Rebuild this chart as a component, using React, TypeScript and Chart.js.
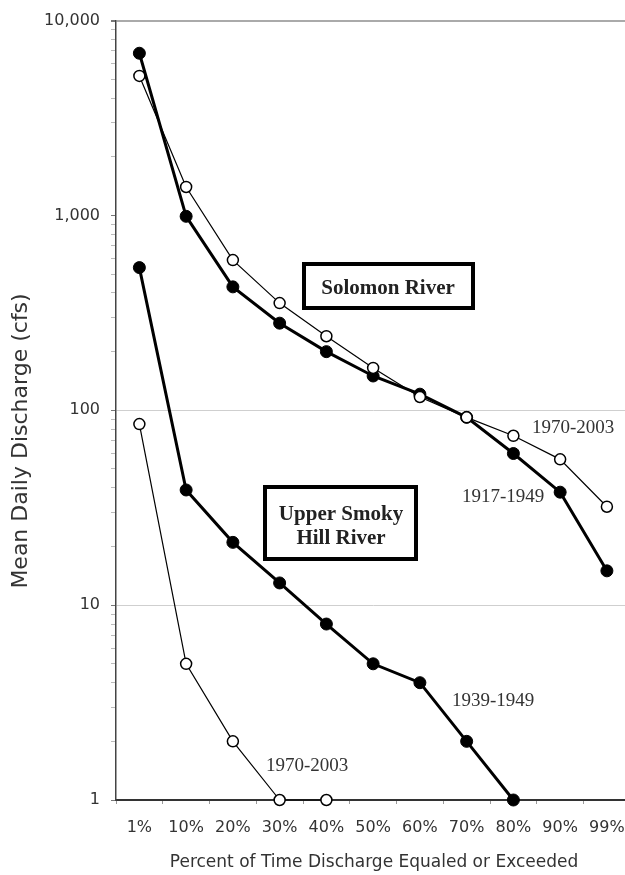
import React, { useEffect, useRef } from "react";
import { Chart, registerables } from "chart.js";

Chart.register(...registerables);

const categories = ["1%", "10%", "20%", "30%", "40%", "50%", "60%", "70%", "80%", "90%", "99%"];
const solomon1917 = [6800, 990, 430, 280, 200, 150, 121, 92, 60, 38, 15];
const solomon1970 = [5200, 1400, 590, 355, 240, 165, 117, 92, 74, 56, 32];
const smoky1939 = [540, 39, 21, 13, 8, 5, 4, 2, 1, null, null];
const smoky1970 = [85, 5, 2, 1, 1, null, null, null, null, null, null];
const yTickValues = [
  1, 2, 3, 4, 5, 6, 7, 8, 9,
  10, 20, 30, 40, 50, 60, 70, 80, 90,
  100, 200, 300, 400, 500, 600, 700, 800, 900,
  1000, 2000, 3000, 4000, 5000, 6000, 7000, 8000, 9000,
  10000,
];
const majorTicks = [1, 10, 100, 1000, 10000];
const yTitle = "Mean Daily Discharge (cfs)";
const xTitle = "Percent of Time Discharge Equaled or Exceeded";

const annotationPlugin = {
  id: "annotations",
  afterDraw(chart: any) {
    const ctx = chart.ctx;
    ctx.save();
    ctx.fillStyle = "#333";
    ctx.textAlign = "center";
    ctx.textBaseline = "middle";
    ctx.font = '22px "DejaVu Sans"';
    ctx.save();
    ctx.translate(21, 441);
    ctx.rotate(-Math.PI / 2);
    ctx.fillText(yTitle, 0, 0);
    ctx.restore();
    ctx.font = '17px "DejaVu Sans"';
    ctx.fillText(xTitle, 374, 863);

    ctx.lineWidth = 4;
    ctx.strokeStyle = "#000";
    ctx.fillStyle = "#fff";
    ctx.fillRect(304, 264, 169, 44);
    ctx.strokeRect(304, 264, 169, 44);
    ctx.fillRect(265, 487, 151, 72);
    ctx.strokeRect(265, 487, 151, 72);

    ctx.fillStyle = "#222";
    ctx.font = 'bold 21px "Liberation Serif"';
    ctx.fillText("Solomon River", 388, 289);
    ctx.fillText("Upper Smoky", 341, 515);
    ctx.fillText("Hill River", 341, 539);

    ctx.font = '19px "Liberation Serif"';
    ctx.fillStyle = "#333";
    ctx.textAlign = "left";
    ctx.fillText("1970-2003", 532, 428);
    ctx.fillText("1917-1949", 462, 497);
    ctx.fillText("1939-1949", 452, 701);
    ctx.fillText("1970-2003", 266, 766);
    ctx.restore();
  },
};

export default function App() {
  const ref = useRef<HTMLCanvasElement | null>(null);
  useEffect(() => {
    const canvas = ref.current;
    if (!canvas) return;
    const filled = (data: any[]) => ({
      data,
      borderColor: "#000",
      borderWidth: 3,
      pointRadius: 6,
      pointBackgroundColor: "#000",
      pointBorderColor: "#000",
      pointBorderWidth: 1,
      tension: 0,
      clip: false as any,
    });
    const open = (data: any[]) => ({
      data,
      borderColor: "#000",
      borderWidth: 1.2,
      pointRadius: 5.5,
      pointBackgroundColor: "#fff",
      pointBorderColor: "#000",
      pointBorderWidth: 1.5,
      tension: 0,
      clip: false as any,
    });
    const chart = new Chart(canvas, {
      type: "line",
      data: {
        labels: categories,
        datasets: [
          { label: "Solomon 1970-2003", ...open(solomon1970) },
          { label: "Solomon 1917-1949", ...filled(solomon1917) },
          { label: "Upper Smoky 1970-2003", ...open(smoky1970) },
          { label: "Upper Smoky 1939-1949", ...filled(smoky1939) },
        ],
      },
      options: {
        animation: false,
        responsive: false,
        devicePixelRatio: 1,
        layout: { padding: { top: 16, right: 2, left: 0, bottom: 0 } },
        plugins: { legend: { display: false }, tooltip: { enabled: false } },
        scales: {
          x: {
            type: "category",
            offset: true,
            grid: {
              offset: true,
              drawOnChartArea: false,
              tickLength: 4,
              tickColor: "#999",
            },
            border: { color: "#333", width: 2 },
            ticks: {
              color: "#333",
              font: { family: "DejaVu Sans", size: 16 },
              padding: 14,
              maxRotation: 0,
              autoSkip: false,
            },
            afterFit: (s: any) => {
              s.height = 75;
            },
          },
          y: {
            type: "logarithmic",
            min: 1,
            max: 10000,
            afterBuildTicks: (s: any) => {
              s.ticks = yTickValues.map((v) => ({ value: v, major: majorTicks.includes(v) }));
            },
            grid: {
              color: (c: any) => {
                const v = c.tick && c.tick.value;
                if (v === 10 || v === 100) return "#cfcfcf";
                if (v === 10000) return "#aaaaaa";
                return "rgba(0,0,0,0)";
              },
              lineWidth: (c: any) => (c.tick && c.tick.value === 10000 ? 2 : 1),
              tickColor: (c: any) => (majorTicks.includes(c.tick && c.tick.value) ? "#777" : "#bbb"),
              tickLength: 5,
            },
            border: { color: "#444", width: 1.5 },
            ticks: {
              autoSkip: false,
              color: "#333",
              font: { family: "DejaVu Sans", size: 16 },
              padding: 11,
              callback: (v: any) => (majorTicks.includes(Number(v)) ? Number(v).toLocaleString("en-US") : ""),
            },
            afterFit: (s: any) => {
              s.width = 116;
            },
          },
        },
      },
      plugins: [annotationPlugin],
    });
    return () => chart.destroy();
  }, []);
  return (
    <div style={{ position: "absolute", left: 0, top: 0, width: 625, height: 875, overflow: "hidden", background: "#fff" }}>
      <canvas ref={ref} width={639} height={875} style={{ width: 639, height: 875, display: "block" }} />
    </div>
  );
}
